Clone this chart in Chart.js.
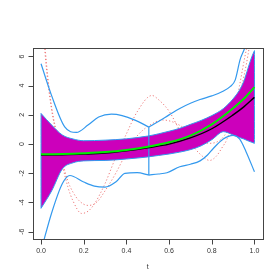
<!DOCTYPE html>
<html>
<head>
<meta charset="utf-8">
<script src="https://cdn.jsdelivr.net/npm/chart.js@4/dist/chart.umd.min.js"></script>
<style>
  body { margin: 0; background: #fff; }
</style>
</head>
<body>
<canvas id="chart" width="280" height="280"></canvas>
<script>
/* ticks */
const xTicks = [0, 0.2, 0.4, 0.6, 0.8, 1.0];
const yTicks = [-6, -4, -2, 0, 2, 4, 6];

/* shaded band */
const tBand = [0, 0.05, 0.1, 0.15, 0.2, 0.3, 0.4, 0.5, 0.55, 0.6, 0.65, 0.7, 0.75, 0.8, 0.855, 0.9, 0.93, 0.95, 0.97, 0.988, 1.0];
const bandUpper = [2.1, 1.3, 0.62, 0.35, 0.23, 0.27, 0.36, 0.55, 0.7, 0.88, 1.08, 1.35, 1.62, 1.95, 2.44, 3.1, 3.7, 4.3, 5.2, 6.0, 6.4];
const bandLower = [-4.4, -3.2, -1.7, -1.28, -1.15, -1.12, -1.02, -0.88, -0.78, -0.68, -0.55, -0.38, -0.12, 0.3, 0.85, 0.62, 0.45, 0.35, 0.22, 0.12, 0.05];

/* black and green curves */
const tLine = [0, 0.1, 0.2, 0.3, 0.4, 0.5, 0.6, 0.7, 0.8, 0.9, 0.95, 1.0];
const blackLine = [-0.75, -0.73, -0.69, -0.62, -0.46, -0.25, 0.0, 0.42, 1.05, 2.0, 2.55, 3.2];
const greenLine = [-0.7, -0.68, -0.63, -0.55, -0.4, -0.18, 0.12, 0.58, 1.35, 2.45, 3.1, 3.9];

/* outer blue bounds, split at t = 0.505 */
const tUpLeft = [0, 0.05, 0.111, 0.166, 0.22, 0.27, 0.33, 0.38, 0.44, 0.505];
const upLeft = [5.5, 3.3, 1.18, 0.8, 1.3, 1.85, 2.05, 1.95, 1.64, 1.17];
const tUpRight = [0.505, 0.55, 0.6, 0.65, 0.7, 0.745, 0.8, 0.85, 0.886, 0.91, 0.933, 0.956, 1.0];
const upRight = [1.17, 1.55, 2.0, 2.44, 2.8, 3.05, 3.3, 3.6, 3.93, 4.4, 5.8, 6.66, 9.5];
const tLowLeft = [0, 0.05, 0.1, 0.135, 0.2, 0.25, 0.3, 0.35, 0.393, 0.45, 0.505];
const lowLeft = [-7.3, -4.7, -2.7, -2.15, -2.6, -2.88, -2.95, -2.6, -2.0, -1.96, -2.12];
const tLowRight = [0.505, 0.55, 0.59, 0.65, 0.7, 0.745, 0.78, 0.807, 0.854, 0.9, 0.93, 0.96, 1.0];
const lowRight = [-2.12, -2.05, -1.96, -1.55, -1.38, -1.15, -0.75, -0.3, 0.35, 0.6, 0.35, -0.5, -1.9];

/* dotted red curves */
const tRed1 = [0, 0.025, 0.05, 0.075, 0.1, 0.125, 0.15, 0.19, 0.22, 0.25, 0.3, 0.35, 0.4, 0.45, 0.52, 0.55, 0.6, 0.65, 0.7, 0.75, 0.79, 0.82, 0.85, 0.87, 0.9, 0.93, 0.95, 0.97, 1.0];
const red1 = [10.5, 5.6, 2.5, 0.6, -1.4, -2.9, -3.9, -4.75, -4.6, -4.1, -2.7, -0.9, 0.7, 2.2, 3.33, 3.05, 2.25, 0.96, 0.05, -0.75, -1.12, -0.85, -0.2, 0.3, 1.8, 4.0, 5.6, 7.2, 11];
const tRed2 = [0, 0.025, 0.05, 0.075, 0.1, 0.125, 0.15, 0.18, 0.22, 0.26, 0.3, 0.35, 0.4, 0.45, 0.5, 0.57, 0.62, 0.68, 0.73, 0.78, 0.82, 0.86, 0.9, 0.93, 0.95, 0.975, 1.0];
const red2 = [9.8, 5.2, 2.3, 0.5, -1.2, -2.5, -3.3, -3.9, -4.2, -4.0, -3.2, -2.0, -0.6, 0.55, 1.2, 1.65, 1.5, 1.0, 0.4, 0.05, 0.12, 0.6, 1.8, 3.4, 4.6, 6.6, 9.5];

const splitT = 0.505;

function pts(ts, vs) {
  return ts.map((t, i) => ({ x: t, y: vs[i] }));
}

const BLUE = "#3399ee";
const FONT = '7px "Liberation Sans", Arial, sans-serif';

function blueLine(data, order, width) {
  return { data: data, borderColor: BLUE, borderWidth: width, order: order, tension: 0 };
}

function redLine(ts, vs) {
  return { data: pts(ts, vs), borderColor: "#ee7a7a", borderWidth: 1, borderDash: [1.2, 2.2], order: 6 };
}

/* R-style box, ticks and labels */
const rAxes = {
  id: "rAxes",
  afterDraw(chart) {
    const { ctx, chartArea: a, scales } = chart;
    const L = Math.round(a.left) + 0.5, R = Math.round(a.right) + 0.5;
    const T = Math.round(a.top) + 0.5, B = Math.round(a.bottom) + 0.5;
    ctx.save();
    ctx.strokeStyle = "#444";
    ctx.lineWidth = 1;
    ctx.strokeRect(L, T, R - L, B - T);
    ctx.fillStyle = "#333";
    ctx.font = FONT;
    ctx.textAlign = "center";
    ctx.textBaseline = "middle";
    ctx.beginPath();
    xTicks.forEach(v => {
      const px = Math.round(scales.x.getPixelForValue(v)) + 0.5;
      ctx.moveTo(px, B);
      ctx.lineTo(px, B + 5);
    });
    yTicks.forEach(v => {
      const py = Math.round(scales.y.getPixelForValue(v)) + 0.5;
      ctx.moveTo(L, py);
      ctx.lineTo(L - 5, py);
    });
    ctx.stroke();
    xTicks.forEach(v => {
      ctx.fillText(v.toFixed(1), scales.x.getPixelForValue(v), B + 11.5);
    });
    yTicks.forEach(v => {
      ctx.save();
      ctx.translate(L - 11.5, scales.y.getPixelForValue(v));
      ctx.rotate(-Math.PI / 2);
      ctx.fillText(String(v), 0, 0);
      ctx.restore();
    });
    ctx.fillText("t", (a.left + a.right) / 2, 267);
    ctx.restore();
  }
};

const datasets = [
  { data: pts(tLine, greenLine), borderColor: "#00ee00", borderWidth: 2, order: 0 },
  { data: pts(tLine, blackLine), borderColor: "#000", borderWidth: 1.4, order: 1 },
  blueLine(pts(tUpLeft, upLeft), 2, 1.2),
  blueLine(pts(tUpRight, upRight), 2, 1.2),
  blueLine(pts(tLowLeft, lowLeft), 2, 1.2),
  blueLine(pts(tLowRight, lowRight), 2, 1.2),
  blueLine([{ x: splitT, y: upRight[0] }, { x: splitT, y: lowRight[0] }], 2, 1.2),
  blueLine([{ x: tBand[0], y: bandLower[0] }, { x: tBand[0], y: bandUpper[0] }], 3, 1),
  blueLine([{ x: tBand[tBand.length - 1], y: bandLower[bandLower.length - 1] }, { x: tBand[tBand.length - 1], y: bandUpper[bandUpper.length - 1] }], 3, 1),
  { data: pts(tBand, bandUpper), borderColor: BLUE, borderWidth: 1, backgroundColor: "#cc00bb", fill: "+1", order: 4 },
  { data: pts(tBand, bandLower), borderColor: BLUE, borderWidth: 1, order: 3 },
  redLine(tRed1, red1),
  redLine(tRed2, red2)
];

new Chart(document.getElementById("chart"), {
  type: "line",
  data: { datasets: datasets },
  options: {
    responsive: false,
    animation: false,
    layout: { padding: { left: 32.5, right: 17, top: 48, bottom: 41 } },
    elements: {
      point: { radius: 0 },
      line: { cubicInterpolationMode: "monotone", fill: false }
    },
    scales: {
      x: { type: "linear", min: -0.04, max: 1.04, display: false },
      y: { type: "linear", min: -6.5, max: 6.58, display: false }
    },
    plugins: { legend: { display: false }, tooltip: { enabled: false } }
  },
  plugins: [rAxes]
});
</script>
</body>
</html>
